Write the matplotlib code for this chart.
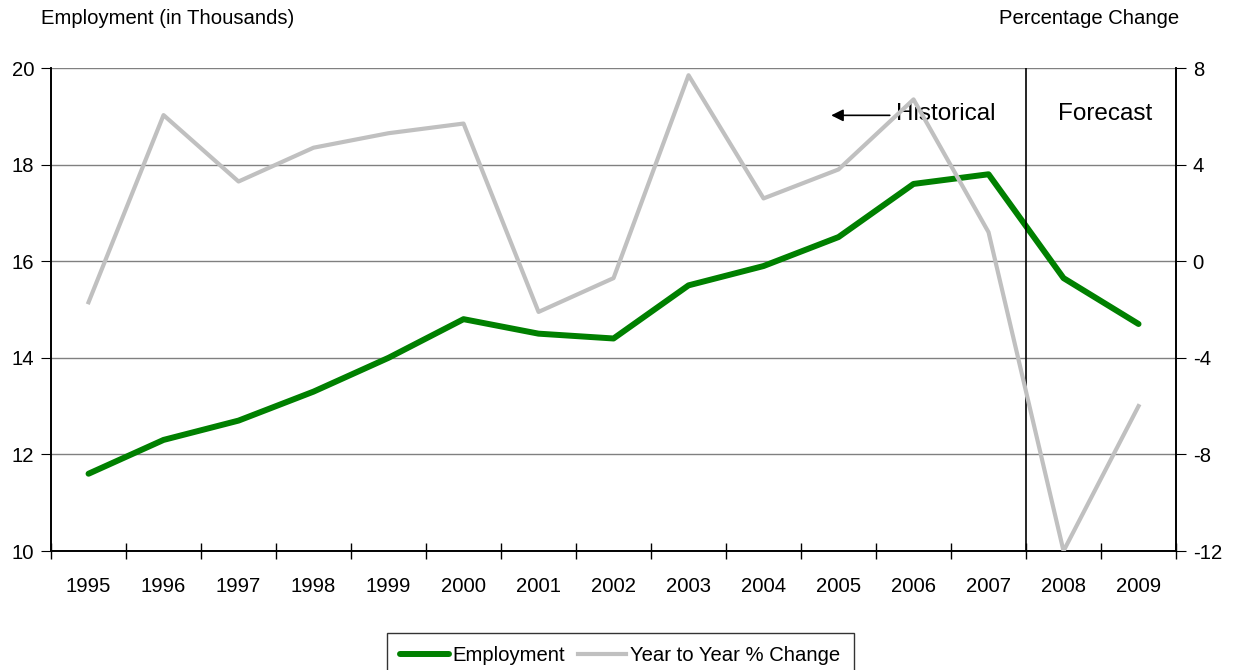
import numpy as np
import matplotlib.pyplot as plt
from matplotlib.lines import Line2D

years = ['1995', '1996', '1997', '1998', '1999', '2000', '2001', '2002',
         '2003', '2004', '2005', '2006', '2007', '2008', '2009']
employment = [11.6, 12.3, 12.7, 13.3, 14.0, 14.8, 14.5, 14.4,
              15.5, 15.9, 16.5, 17.6, 17.8, 15.65, 14.7]
pct_change = [-1.7, 6.05, 3.3, 4.7, 5.3, 5.7, -2.1, -0.7,
              7.7, 2.6, 3.8, 6.7, 1.2, -12.0, -6.0]

plt.rcParams['font.family'] = ['Liberation Sans', 'DejaVu Sans']
plt.rcParams['axes.unicode_minus'] = False
fs = 14.6

fig = plt.figure(figsize=(12.33, 6.7), dpi=100)
ax = fig.add_axes([0.0414, 0.1776, 0.9124, 0.7209])
ax2 = ax.twinx()

x = np.arange(len(years))
ax.plot(x, employment, color='#008000', lw=4.3, solid_capstyle='round', zorder=3)
ax2.plot(x, pct_change, color='#c0c0c0', lw=3.0, zorder=3)

ax.set_xlim(-0.5, len(years) - 0.5)
ax.set_ylim(10, 20)
ax.set_yticks([10, 12, 14, 16, 18, 20])
ax2.set_ylim(-12, 8)
ax2.set_yticks([-12, -8, -4, 0, 4, 8])
ax.yaxis.grid(True, color='#808080', lw=1.0)
ax.set_axisbelow(True)

ax.set_xticks(x)
ax.set_xticklabels(years)
ax.set_xticks(np.arange(-0.5, len(years)), minor=True)
ax.tick_params(axis='x', which='major', length=0, pad=19, labelsize=fs)
ax.tick_params(axis='x', which='minor', length=12, direction='inout', width=1)
ax.tick_params(axis='y', length=7, direction='out', labelsize=fs, pad=5)
ax2.tick_params(axis='y', length=7, direction='out', labelsize=fs, pad=5)

for a in (ax, ax2):
    a.spines['top'].set_visible(False)
    for s in ('left', 'right', 'bottom'):
        a.spines[s].set_color('black')
        a.spines[s].set_linewidth(1.2)

# forecast divider
ax.axvline(12.5, color='black', lw=1.2, zorder=4)

ax.annotate('', xy=(0.691, 0.902), xytext=(0.748, 0.902), xycoords='axes fraction',
            arrowprops=dict(arrowstyle='-|>', color='black', lw=1.2, mutation_scale=18))
ax.text(0.751, 0.904, 'Historical', transform=ax.transAxes, fontsize=17.5,
        va='center', ha='left', zorder=5)
ax.text(0.937, 0.904, 'Forecast', transform=ax.transAxes, fontsize=17.5,
        va='center', ha='center', zorder=5)

fig.text(0.033, 0.972, 'Employment (in Thousands)', fontsize=fs, va='center', ha='left')
fig.text(0.956, 0.972, 'Percentage Change', fontsize=fs, va='center', ha='right')

handles = [Line2D([], [], color='#008000', lw=4.3, solid_capstyle='round'),
           Line2D([], [], color='#c0c0c0', lw=3.0)]
leg = fig.legend(handles, ['Employment', 'Year to Year % Change'], ncol=2,
                 loc='upper center', bbox_to_anchor=(0.503, 0.055), frameon=True,
                 fancybox=False, edgecolor='black', fontsize=fs, handlelength=2.4,
                 handletextpad=0.2, columnspacing=0.6, borderpad=0.65,
                 borderaxespad=0)
leg.get_frame().set_linewidth(1.0)

fig.savefig('out.png', dpi=100)
